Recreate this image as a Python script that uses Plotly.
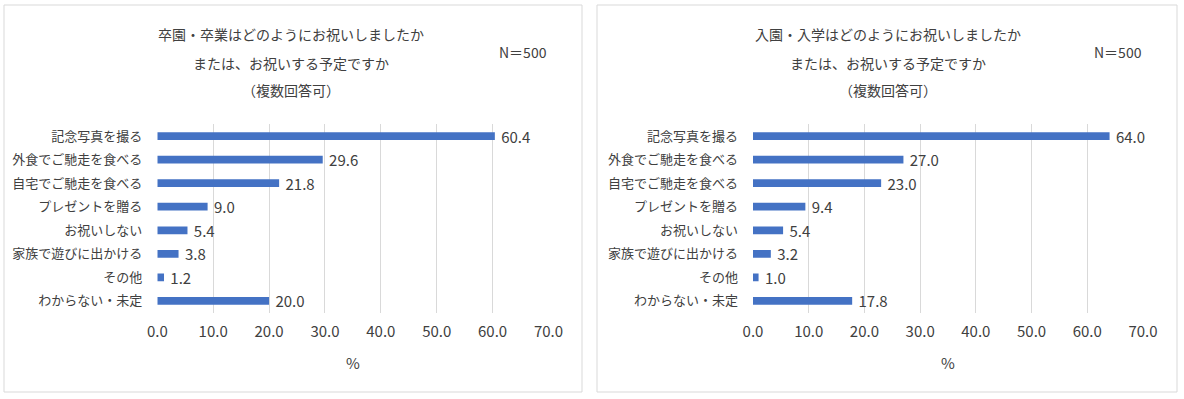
import plotly.graph_objects as go

categories = ["記念写真を撮る", "外食でご馳走を食べる", "自宅でご馳走を食べる", "プレゼントを贈る",
              "お祝いしない", "家族で遊びに出かける", "その他", "わからない・未定"]
values_left = [60.4, 29.6, 21.8, 9.0, 5.4, 3.8, 1.2, 20.0]
values_right = [64.0, 27.0, 23.0, 9.4, 5.4, 3.2, 1.0, 17.8]
title_left = ["卒園・卒業はどのようにお祝いしましたか", "または、お祝いする予定ですか", "（複数回答可）"]
title_right = ["入園・入学はどのようにお祝いしましたか", "または、お祝いする予定ですか", "（複数回答可）"]
n_label = "N＝500"
tick_vals = [0, 10, 20, 30, 40, 50, 60, 70]
tick_text = ["0.0", "10.0", "20.0", "30.0", "40.0", "50.0", "60.0", "70.0"]

W, H = 1184, 399
FONT = "Noto Sans CJK JP"
TXT = "#404040"
BAR = "#4472C4"
GRID = "#D9D9D9"

def px(x):
    return x / W

def py(y):
    return 1 - y / H

fig = go.Figure()
for vals, xa, ya in [(values_left, "x", "y"), (values_right, "x2", "y2")]:
    fig.add_trace(go.Bar(y=categories, x=vals, orientation="h", marker_color=BAR,
                         texttemplate=" %{x:.1f}", textposition="outside",
                         constraintext="none", hoverinfo="skip",
                         textfont=dict(size=15, color=TXT, family=FONT), cliponaxis=False,
                         xaxis=xa, yaxis=ya, width=0.33))

ydom = [py(312.7), py(124.3)]
xcommon = dict(range=[0, 70], tickvals=tick_vals, ticktext=tick_text, showgrid=True,
               gridcolor=GRID, gridwidth=1, zeroline=False, showline=False, automargin=False,
               tickfont=dict(size=15, color=TXT, family=FONT), ticks="", ticklabelstandoff=8,
               fixedrange=True)
ycommon = dict(autorange="reversed", showgrid=False, showline=False, ticks="", automargin=False,
               tickfont=dict(size=13, color=TXT, family=FONT), ticklabelstandoff=14,
               fixedrange=True)

fig.update_layout(
    template="none",
    width=W, height=H, autosize=False, margin=dict(l=0, r=0, t=0, b=0, pad=0),
    paper_bgcolor="white", plot_bgcolor="white", showlegend=False,
    font=dict(family=FONT, color=TXT),
    xaxis=dict(domain=[px(157.3), px(548.5)], anchor="y", **xcommon),
    yaxis=dict(domain=ydom, anchor="x", **ycommon),
    xaxis2=dict(domain=[px(753), px(1143)], anchor="y2", **xcommon),
    yaxis2=dict(domain=ydom, anchor="x2", **ycommon),
)

# panel borders
for x0, x1 in [(4, 582), (597, 1177)]:
    fig.add_shape(type="rect", xref="paper", yref="paper", x0=px(x0), x1=px(x1),
                  y0=py(392), y1=py(5), line=dict(color=GRID, width=1), fillcolor="rgba(0,0,0,0)")

anns = []
for cx, lines in [(291, title_left), (888, title_right)]:
    for yy, t in zip([34, 63, 90], lines):
        anns.append(dict(text=t, x=px(cx), y=py(yy), xref="paper", yref="paper",
                         xanchor="center", yanchor="middle", showarrow=False,
                         font=dict(size=14, color=TXT, family=FONT)))
for cx in [523, 1118]:
    anns.append(dict(text=n_label, x=px(cx), y=py(52), xref="paper", yref="paper",
                     xanchor="center", yanchor="middle", showarrow=False,
                     font=dict(size=14, color=TXT, family=FONT)))
for cx in [353, 948]:
    anns.append(dict(text="%", x=px(cx), y=py(362), xref="paper", yref="paper",
                     xanchor="center", yanchor="middle", showarrow=False,
                     font=dict(size=15, color=TXT, family=FONT)))
fig.update_layout(annotations=anns)

post = ("document.body.style.margin='0';document.body.style.overflow='hidden';"
        "var gd=document.getElementById('{plot_id}');"
        "Plotly.relayout(gd,{width:%d,height:%d});" % (W, H))
fig.write_html("out.html", config={"displayModeBar": False, "responsive": False},
               post_script=post)
